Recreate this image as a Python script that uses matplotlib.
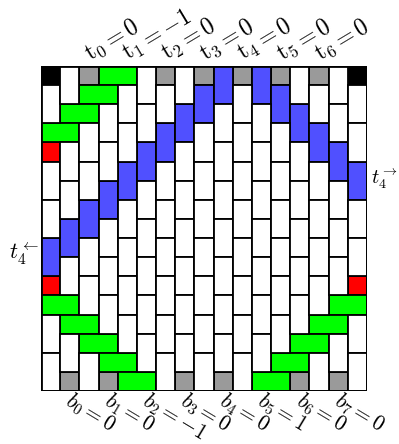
import matplotlib
matplotlib.use("Agg")
import matplotlib.pyplot as plt
from matplotlib.patches import Rectangle

plt.rcParams['mathtext.fontset'] = 'cm'

N = 17  # board is N x N unit cells

# special pieces, (row, col) with row 0 at the top
black_cells = [(0, 0), (0, 16)]
grey_cells = [(0, 2), (0, 6), (0, 8), (0, 10), (0, 12), (0, 14),
              (16, 1), (16, 3), (16, 7), (16, 9), (16, 13), (16, 15)]
red_cells = [(4, 0), (11, 0), (11, 16)]
# horizontal dominoes: (row, left col)
green_dominoes = [(0, 3), (1, 2), (2, 1), (3, 0),
                  (12, 0), (13, 1), (14, 2), (15, 3), (16, 4),
                  (12, 15), (13, 14), (14, 13), (15, 12), (16, 11)]
# vertical dominoes: (top row, col)
blue_dominoes = [(9, 0), (8, 1), (7, 2), (6, 3), (5, 4), (4, 5), (3, 6), (2, 7),
                 (1, 8), (0, 9), (0, 11), (1, 12), (2, 13), (3, 14), (4, 15), (5, 16)]

t_values = ["0", "-1", "0", "0", "0", "0", "0"]
b_values = ["0", "0", "-1", "0", "0", "1", "0", "0"]

GREEN = "#00ff00"
BLUE = "#5050ff"
RED = "#ff0000"
GREY = "#9a9a9a"
LW = 1.3

fig = plt.figure(figsize=(3.99, 4.44), dpi=100)
ax = fig.add_axes([41 / 399, 53 / 444, 326 / 399, 325 / 444])
ax.set_xlim(0, N)
ax.set_ylim(N, 0)
ax.axis("off")

used = [[False] * N for _ in range(N)]


def add_piece(r, c, h, w, color):
    ax.add_patch(Rectangle((c, r), w, h, facecolor=color, edgecolor="black", lw=LW))
    for i in range(r, r + h):
        for j in range(c, c + w):
            used[i][j] = True


for r, c in black_cells:
    add_piece(r, c, 1, 1, "black")
for r, c in grey_cells:
    add_piece(r, c, 1, 1, GREY)
for r, c in red_cells:
    add_piece(r, c, 1, 1, RED)
for r, c in green_dominoes:
    add_piece(r, c, 1, 2, GREEN)
for r, c in blue_dominoes:
    add_piece(r, c, 2, 1, BLUE)

# fill the rest of every column with white vertical dominoes
for c in range(N):
    r = 0
    while r < N:
        if not used[r][c] and r + 1 < N and not used[r + 1][c]:
            add_piece(r, c, 2, 1, "white")
            r += 2
        else:
            r += 1

ax.add_patch(Rectangle((0, 0), N, N, fill=False, edgecolor="black", lw=2.0, zorder=5))

for i, v in enumerate(t_values):
    ax.text(2 * i + 2 + 0.55, -0.25, r"$\mathrm{t}_{%d}=%s$" % (i, v), fontsize=17,
            rotation=31, rotation_mode="anchor", ha="left", va="baseline")

for i, v in enumerate(b_values):
    ax.text(2 * i + 1 + 0.7, N - 0.1, r"$b_{%d}=%s$" % (i, v), fontsize=15.5,
            rotation=-31, rotation_mode="anchor", ha="left", va="top")

ax.text(-0.1, 9.8, r"$t_4^{\leftarrow}$", fontsize=16, ha="right", va="center")
ax.text(N + 0.2, 5.9, r"$t_4^{\rightarrow}$", fontsize=14.5, ha="left", va="center")

fig.savefig("out.png", dpi=100)
